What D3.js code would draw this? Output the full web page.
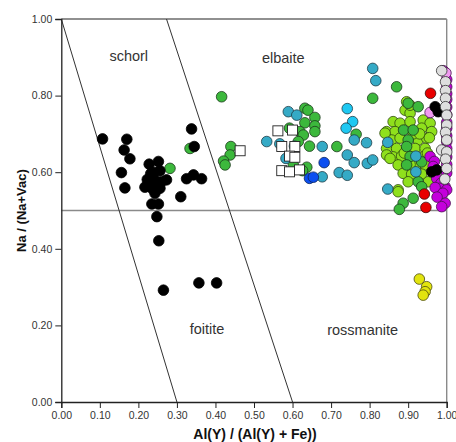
<!DOCTYPE html>
<html>
<head>
<meta charset="utf-8">
<script src="https://cdn.jsdelivr.net/npm/d3@7"></script>
<style>
  html, body { margin: 0; padding: 0; background: #fff; }
  svg { display: block; font-family: "Liberation Sans", Arial, sans-serif; }
</style>
</head>
<body>
<svg id="chart" width="456" height="442"></svg>
<script>
// Tourmaline X-site classification: Na/(Na+Vac) vs Al(Y)/(Al(Y)+Fe)
const xTicks = [0, 0.1, 0.2, 0.3, 0.4, 0.5, 0.6, 0.7, 0.8, 0.9, 1.0];
const yTicks = [0, 0.2, 0.4, 0.6, 0.8, 1.0];

// Field boundaries
const boundaryA = [[0, 1], [0.3, 0]];
const boundaryB = [[0.273, 1], [0.6, 0]];
const naLine = 0.5;

const fieldLabels = [
  { name: "schorl", x: 0.175, y: 0.89 },
  { name: "elbaite", x: 0.576, y: 0.885 },
  { name: "foitite", x: 0.378, y: 0.178 },
  { name: "rossmanite", x: 0.782, y: 0.176 }
];

// Measured compositions by group
const blackPts = [
  [0.107,0.687],[0.170,0.686],[0.163,0.658],[0.178,0.635],[0.156,0.599],[0.165,0.559],
  [0.338,0.713],[0.345,0.667],[0.228,0.621],[0.252,0.628],[0.256,0.604],[0.223,0.581],
  [0.273,0.580],[0.217,0.561],[0.235,0.558],[0.256,0.558],[0.243,0.545],[0.235,0.517],
  [0.252,0.517],[0.248,0.484],[0.310,0.536],[0.325,0.583],[0.343,0.593],[0.364,0.583],
  [0.253,0.421],[0.265,0.292],[0.357,0.311],[0.403,0.311],
  [0.240,0.600],[0.260,0.575],[0.245,0.578],[0.232,0.596],
  [0.970,0.771],[0.978,0.758],[0.961,0.601],[0.974,0.606]
];
const greenPts = [
  [0.282,0.610],[0.334,0.662],[0.416,0.797],[0.440,0.667],[0.438,0.645],[0.421,0.629],
  [0.425,0.619],[0.632,0.767],[0.640,0.762],[0.658,0.743],[0.632,0.729],[0.658,0.721],
  [0.658,0.706],[0.592,0.715],[0.619,0.706],[0.628,0.697],[0.615,0.680],[0.644,0.668],
  [0.602,0.619],[0.637,0.613],[0.626,0.604],[0.808,0.793],[0.870,0.823],[0.765,0.699],
  [0.715,0.667],[0.900,0.780],[0.926,0.771],[0.888,0.710],[0.913,0.710],[0.900,0.684],
  [0.896,0.667],[0.905,0.641],[0.896,0.619],[0.935,0.627],[0.926,0.575],[0.935,0.562],
  [0.913,0.532],[0.887,0.519],[0.877,0.503]
];
const lightGreenPts = [
  [0.892,0.762],[0.905,0.754],[0.861,0.732],[0.879,0.728],[0.905,0.732],[0.939,0.736],
  [0.957,0.728],[0.844,0.706],[0.866,0.706],[0.935,0.715],[0.961,0.706],[0.857,0.684],
  [0.879,0.689],[0.926,0.684],[0.948,0.689],[0.844,0.662],[0.870,0.662],[0.918,0.662],
  [0.944,0.662],[0.861,0.640],[0.883,0.642],[0.939,0.640],[0.874,0.619],[0.922,0.619],
  [0.944,0.619],[0.887,0.597],[0.909,0.595],[0.935,0.595],[0.900,0.575],[0.952,0.575],
  [0.874,0.554],[0.840,0.702],[0.844,0.645],[0.853,0.636],[0.874,0.549],[0.905,0.775],
  [0.896,0.784],[0.913,0.700],[0.930,0.700],[0.890,0.650],[0.905,0.620],[0.950,0.650],
  [0.955,0.690]
];
const tealPts = [
  [0.589,0.758],[0.611,0.749],[0.533,0.680],[0.567,0.674],[0.605,0.668],[0.677,0.667],
  [0.583,0.636],[0.677,0.588],[0.808,0.871],[0.816,0.839],[0.760,0.684],[0.792,0.677],
  [0.742,0.645],[0.760,0.625],[0.794,0.623],[0.808,0.632],[0.721,0.599],[0.742,0.592],
  [0.847,0.556],[0.847,0.678],[0.920,0.642],[0.920,0.601]
];
const cyanPts = [[0.742,0.766],[0.756,0.732],[0.739,0.715]];
const bluePts = [[0.682,0.625],[0.644,0.584],[0.654,0.587]];
const squarePts = [
  [0.464,0.656],[0.562,0.708],[0.600,0.710],[0.572,0.667],[0.606,0.667],
  [0.592,0.642],[0.606,0.639],[0.572,0.604],[0.592,0.601],[0.618,0.606]
];
const yellowPts = [[0.929,0.321],[0.948,0.301],[0.944,0.288],[0.939,0.279]];
const redPts = [[0.958,0.806],[0.942,0.543],[0.946,0.508]];
const magentaPts = [
  [0.991,0.865],[1.0,0.842],[1.0,0.823],[1.0,0.805],[1.0,0.790],[1.0,0.770],[1.0,0.750],
  [1.0,0.730],[1.0,0.715],[1.0,0.695],[1.0,0.680],[1.0,0.662],[1.0,0.640],[1.0,0.620],
  [1.0,0.598],[0.957,0.641],[0.968,0.628],[0.965,0.615],[0.974,0.584],[0.985,0.571],
  [0.996,0.562],[0.982,0.558],[1.0,0.554],[0.970,0.560],[0.990,0.545],[0.996,0.519],
  [0.987,0.510],[0.975,0.535]
];
const pinkPts = [[0.957,0.756],[0.998,0.859]];
const grayPts = [
  [0.987,0.865],[0.997,0.836],[0.997,0.813],[0.997,0.793],[0.997,0.771],[1.0,0.749],
  [1.0,0.723],[0.997,0.704],[1.0,0.684],[0.987,0.658],[1.0,0.653],[0.997,0.634],
  [1.0,0.610],[0.995,0.582]
];

const svg = d3.select("#chart");
const x = d3.scaleLinear().domain([0, 1]).range([61.3, 446.7]);
const y = d3.scaleLinear().domain([0, 1]).range([402, 19]);

// frame: top border dark, right border grey
svg.append("line").attr("x1", x(0)).attr("x2", x(1)).attr("y1", y(1)).attr("y2", y(1))
  .attr("stroke", "#222").attr("stroke-width", 1.1);
svg.append("line").attr("x1", x(1)).attr("x2", x(1)).attr("y1", y(1)).attr("y2", y(0))
  .attr("stroke", "#8a8a8a").attr("stroke-width", 1.4);

// Na = 0.5 divider
svg.append("line").attr("x1", x(0)).attr("x2", x(1)).attr("y1", y(naLine)).attr("y2", y(naLine))
  .attr("stroke", "#8a8a8a").attr("stroke-width", 1.3);

// diagonal boundaries
const lineGen = d3.line().x(d => x(d[0])).y(d => y(d[1]));
[boundaryA, boundaryB].forEach(b => {
  svg.append("path").attr("d", lineGen(b)).attr("fill", "none")
    .attr("stroke", "#333").attr("stroke-width", 1);
});

// axes
const xAxis = svg.append("g").attr("transform", `translate(0,${y(0)})`)
  .call(d3.axisBottom(x).tickValues(xTicks).tickFormat(d3.format(".2f")).tickSize(6).tickPadding(4));
const yAxis = svg.append("g").attr("transform", `translate(${x(0)},0)`)
  .call(d3.axisLeft(y).tickValues(yTicks).tickFormat(d3.format(".2f")).tickSize(6).tickPadding(3));
[xAxis, yAxis].forEach(g => {
  g.select(".domain").attr("stroke", "#222").attr("stroke-width", 1.3);
  g.selectAll(".tick line").attr("stroke", "#222");
  g.selectAll(".tick text").attr("fill", "#333").attr("font-size", 10.5)
    .attr("font-family", "'Liberation Sans', Arial, sans-serif");
});

// field names
svg.selectAll(".field").data(fieldLabels).join("text")
  .attr("x", d => x(d.x)).attr("y", d => y(d.y))
  .attr("text-anchor", "middle").attr("font-size", 14.5).attr("fill", "#333")
  .text(d => d.name);

// axis titles
svg.append("text").attr("x", 255).attr("y", 438.5)
  .attr("text-anchor", "middle").attr("font-size", 14).attr("font-weight", "bold").attr("fill", "#111")
  .text("Al(Y) / (Al(Y) + Fe))");
svg.append("text").attr("transform", `translate(26,${y(0.5)}) rotate(-90)`)
  .attr("text-anchor", "middle").attr("font-size", 13).attr("font-weight", "bold").attr("fill", "#111")
  .text("Na / (Na+Vac)");

const R = 5.3;
function dots(data, fill, stroke) {
  svg.append("g").selectAll("circle").data(data).join("circle")
    .attr("cx", d => x(d[0])).attr("cy", d => y(d[1])).attr("r", R)
    .attr("fill", fill).attr("stroke", stroke).attr("stroke-width", 0.8);
}

dots(lightGreenPts, "#8fe01c", "#2f4a10");
dots(greenPts, "#3cb83c", "#1c3a1c");
dots(tealPts, "#35aac6", "#1d3c46");
dots(cyanPts, "#1ec8f2", "#1d3c46");
dots(bluePts, "#0c4ff0", "#0d2458");

// open squares
svg.append("g").selectAll("rect").data(squarePts).join("rect")
  .attr("x", d => x(d[0]) - 5).attr("y", d => y(d[1]) - 5)
  .attr("width", 10).attr("height", 10)
  .attr("fill", "#fff").attr("stroke", "#222").attr("stroke-width", 0.9);

dots(magentaPts, "#c400dc", "#4a1050");
dots(pinkPts, "#f09af0", "#4a1050");
dots(blackPts, "#000", "#000");
dots(redPts, "#e80000", "#3a0a0a");
dots(grayPts, "#dedede", "#333");
dots(yellowPts, "#e2e40e", "#4a4a10");
</script>
</body>
</html>
